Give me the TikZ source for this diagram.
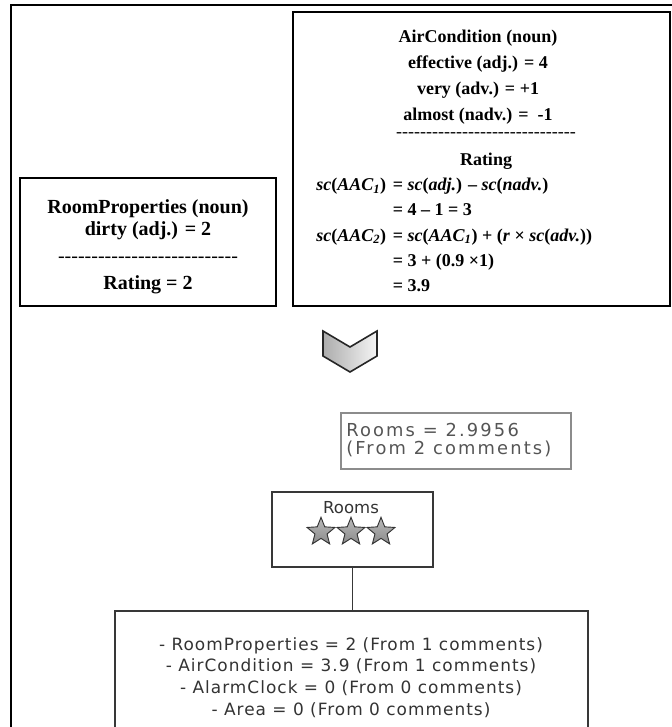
\documentclass[tikz,border=0pt]{standalone}
\usepackage{fontspec}
\setmainfont{Liberation Serif}
\newfontfamily\dashfont[Ligatures=TeXOff]{Liberation Serif}
\newfontfamily\valuefont[LetterSpace=12]{DejaVu Sans}
\newfontfamily\listfont[LetterSpace=6]{DejaVu Sans}
\newfontfamily\websans{DejaVu Sans}
\usetikzlibrary{fit,shapes.geometric}
\definecolor{webtext}{HTML}{333333}
\definecolor{valuegray}{HTML}{555555}

\begin{document}
\begin{tikzpicture}[x=0.75pt,y=-0.75pt,
  framebox/.style={draw=black,line width=1.9pt,inner sep=0pt},
  webbox/.style={draw=black!78,line width=1.2pt,inner sep=0pt},
  valuebox/.style={draw=black!45,line width=1.2pt,inner sep=0pt},
  rptext/.style={font=\bfseries\fontsize{15}{16.5}\selectfont,align=center,inner sep=0pt},
  actext/.style={font=\bfseries\fontsize{13.5}{19.5}\selectfont,align=center,inner sep=0pt},
  dashrow/.style={font=\dashfont\fontsize{13.5}{14}\selectfont,inner sep=0pt},
  valuetext/.style={font=\valuefont\fontsize{13.4}{13.7}\selectfont,text=valuegray,align=left,inner sep=0pt},
  listtext/.style={font=\listfont\fontsize{12.7}{16.3}\selectfont,text=webtext,align=center,inner sep=0pt},
  roomlabel/.style={font=\websans\fontsize{12.4}{13}\selectfont,text=webtext,inner sep=0pt},
  ratingstar/.style={star,star points=5,star point ratio=2.3,minimum size=22pt,inner sep=0pt,
    draw=black!80,line width=0.7pt,top color=gray!55,bottom color=gray!90},
  webline/.style={draw=black!78,line width=1.2pt}
]
  \useasboundingbox (0,0) rectangle (671,727);
  % outer frame, cut by the page
  \draw[line width=1.5pt] (11,5) rectangle (720,780);

  % noun boxes
  \node[framebox,fit={(20,178) (276,306)}] (rpbox) {};
  \node[rptext] (rptitle) at (148,220) {RoomProperties (noun)\\dirty (adj.) = 2};
  \node[dashrow,font=\dashfont\fontsize{15}{16}\selectfont] (rpdash) at (148,260) {---------------------------};
  \node[rptext] (rprating) at (148,285) {Rating = 2};

  \node[framebox,fit={(293,12) (670,306)}] (acbox) {};
  \node[actext] (actitle) at (478,77.5) {AirCondition (noun)\\effective (adj.) = 4\\very (adv.) = +1\\almost (nadv.) = \ -1};
  \node[dashrow] (acdash) at (486,135) {------------------------------};
  \node[actext] (acrating) at (486,161) {Rating};
  \node[actext,anchor=west,font=\bfseries\fontsize{13.5}{18.8}\selectfont] (aceq) at (316,236) {%
    \begin{tabular}{@{}l@{\hspace{5pt}}l@{}}
      \textit{sc}(\textit{AAC\textsubscript{1}}) & = \textit{sc}(\textit{adj.}) – \textit{sc}(\textit{nadv.})\\
      & = 4 – 1 = 3\\
      \textit{sc}(\textit{AAC\textsubscript{2}}) & = \textit{sc}(\textit{AAC\textsubscript{1}}) + (\textit{r} × \textit{sc}(\textit{adv.}))\\
      & = 3 + (0.9 ×1)\\
      & = 3.9
    \end{tabular}};

  % down chevron
  \shadedraw[left color=gray!65,right color=gray!8,draw=black!85,line width=1.2pt,line join=miter]
    (323,331) -- (350,347) -- (377,331) -- (377,356) -- (350,372) -- (323,356) -- cycle;

  % web output
  \node[valuebox,fit={(341,413) (571,469)}] (valuebox) {};
  \node[valuetext,anchor=west] (valuetxt) at (346,440) {Rooms = 2.9956\\(From 2 comments)};

  \node[webbox,fit={(272,492) (433,567)}] (starbox) {};
  \node[roomlabel] (roomslbl) at (351,508) {Rooms};
  \foreach \x [count=\i] in {321,351,381}
    \node[ratingstar] (star\i) at (\x,532) {};

  \node[webbox,fit={(115,611) (588,790)}] (listbox) {};
  \node[listtext] (listtxt) at (351,677.5) {- RoomProperties = 2 (From 1 comments)\\- AirCondition = 3.9 (From 1 comments)\\- AlarmClock = 0 (From 0 comments)\\- Area = 0 (From 0 comments)};

  \draw[webline] (starbox.south) -- (starbox.south |- listbox.north);
\end{tikzpicture}
\end{document}
